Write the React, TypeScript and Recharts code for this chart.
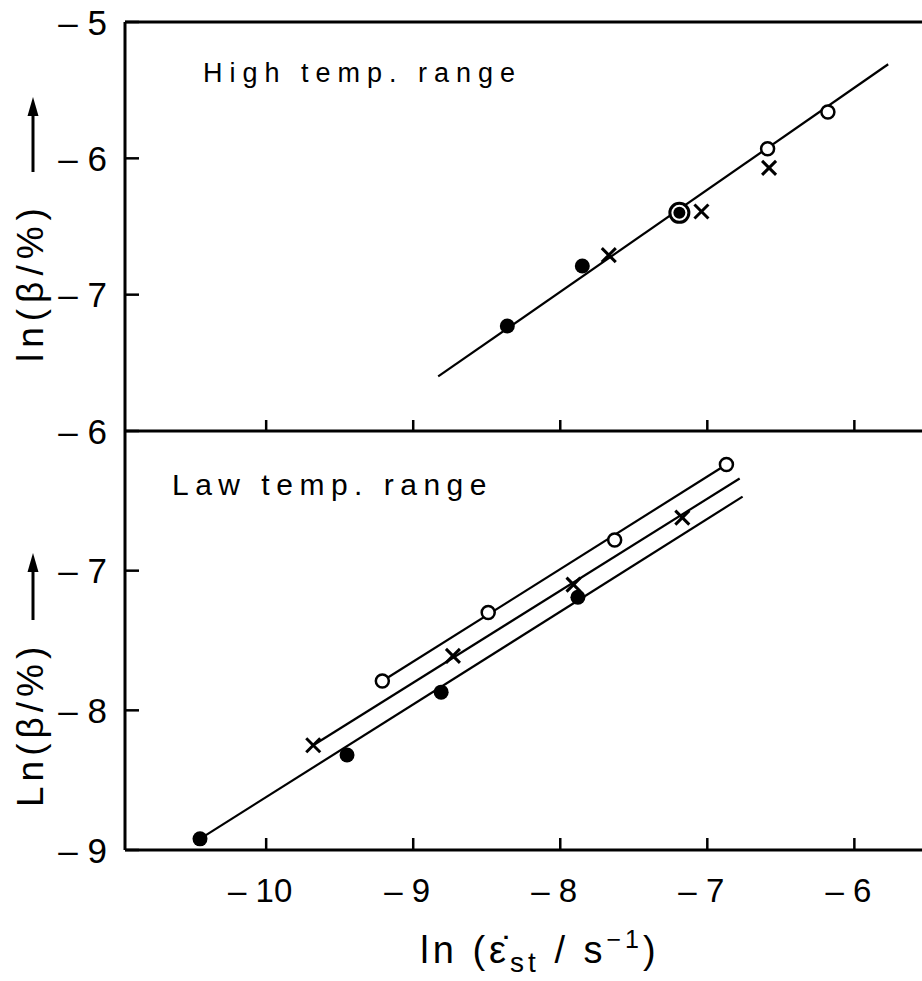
import React from "react"
import { ScatterChart, Scatter, XAxis, YAxis, ReferenceLine } from "recharts"

// x axis: ln(strain rate / s^-1), shared by both panels
const xTicks = [-10, -9, -8, -7, -6]
const highYTicks = [-5, -6, -7]
const lowYTicks = [-6, -7, -8, -9]

// high temp. range (top panel)
const highFilledX = [-8.36, -7.85]
const highFilledY = [-7.23, -6.79]
const highRingX = [-7.19]
const highRingY = [-6.4]
const highCrossX = [-7.67, -7.04, -6.58]
const highCrossY = [-6.71, -6.39, -6.07]
const highOpenX = [-6.59, -6.18]
const highOpenY = [-5.93, -5.66]
const highFitX = [-8.83, -5.77]
const highFitY = [-7.6, -5.31]

// low temp. range (bottom panel)
const lowFilledX = [-10.45, -9.45, -8.81, -7.88]
const lowFilledY = [-8.92, -8.32, -7.87, -7.19]
const lowFilledFitX = [-10.45, -6.76]
const lowFilledFitY = [-8.92, -6.47]
const lowCrossX = [-9.68, -8.73, -7.91, -7.17]
const lowCrossY = [-8.25, -7.61, -7.1, -6.62]
const lowCrossFitX = [-9.68, -6.78]
const lowCrossFitY = [-8.25, -6.34]
const lowOpenX = [-9.21, -8.49, -7.63, -6.87]
const lowOpenY = [-7.79, -7.3, -6.78, -6.24]
const lowOpenFitX = [-9.21, -6.87]
const lowOpenFitY = [-7.79, -6.24]

const zip = (xs: number[], ys: number[]) => xs.map((x, i) => ({ x, y: ys[i] }))

const FONT = '"Liberation Sans", Arial, sans-serif'
const X_DOMAIN: [number, number] = [-10.96, -5.54]
const fmt = (v: number) => `\u2013 ${Math.abs(v)}`

const NoDot = () => <g />
const Filled = ({ cx, cy }: any) => <circle cx={cx} cy={cy} r={7.5} fill="#000" />
const Open = ({ cx, cy }: any) => (
  <circle cx={cx} cy={cy} r={6.5} fill="#fff" stroke="#000" strokeWidth={2.5} />
)
const Ring = ({ cx, cy }: any) => (
  <g>
    <circle cx={cx} cy={cy} r={9.5} fill="#fff" stroke="#000" strokeWidth={3} />
    <circle cx={cx} cy={cy} r={6} fill="#000" />
  </g>
)
const Cross = ({ cx, cy }: any) => (
  <g stroke="#000" strokeWidth={3}>
    <line x1={cx - 7} y1={cy - 7} x2={cx + 7} y2={cy + 7} />
    <line x1={cx - 7} y1={cy + 7} x2={cx + 7} y2={cy - 7} />
  </g>
)

const YTick = ({ x, y, payload }: any) => (
  <g>
    <line x1={x} x2={x + 14} y1={y} y2={y} stroke="#000" strokeWidth={2.5} />
    <text x={x - 18} y={y} textAnchor="end" dominantBaseline="central" fontSize={35} fontFamily={FONT} fill="#000">
      {fmt(payload.value)}
    </text>
  </g>
)
const TopXTick = ({ x, y }: any) => <line x1={x} x2={x} y1={y} y2={y - 11} stroke="#000" strokeWidth={2.5} />
const BottomXTick = ({ x, y, payload }: any) => (
  <g>
    <line x1={x} x2={x} y1={y} y2={y - 12} stroke="#000" strokeWidth={2.5} />
    <text x={x - 6} y={y + 40} textAnchor="middle" dominantBaseline="central" fontSize={33} fontFamily={FONT} fill="#000">
      {fmt(payload.value)}
    </text>
  </g>
)

const axisLine = { stroke: "#000", strokeWidth: 3 }
const fitLine = { stroke: "#000", strokeWidth: 2.2 }

const Arrow = ({ x, y1, y2 }: { x: number; y1: number; y2: number }) => (
  <g>
    <line x1={x} x2={x} y1={y1} y2={y2 + 10} stroke="#000" strokeWidth={3} />
    <polygon points={`${x - 5.5},${y2 + 19} ${x + 5.5},${y2 + 19} ${x},${y2}`} fill="#000" />
  </g>
)

export default function App() {
  return (
    <div style={{ position: "absolute", left: 0, top: 0, width: 922, height: 981, background: "#fff", overflow: "hidden" }}>
      <div style={{ position: "absolute", left: 0, top: 0 }}>
        <ScatterChart width={922} height={440} margin={{ top: 22, right: 0, bottom: 0, left: 0 }}>
          <XAxis type="number" dataKey="x" domain={X_DOMAIN} ticks={xTicks} interval={0} height={9}
            tickSize={0} tickMargin={0} tickLine={false} axisLine={axisLine} tick={(p: any) => <TopXTick {...p} />} />
          <YAxis type="number" dataKey="y" domain={[-8, -5]} ticks={highYTicks} interval={0} width={125}
            tickSize={0} tickMargin={0} tickLine={false} axisLine={axisLine} tick={(p: any) => <YTick {...p} />} />
          <ReferenceLine y={-5} stroke="#000" strokeWidth={3} />
          <Scatter data={zip(highFitX, highFitY)} line={fitLine} shape={NoDot} isAnimationActive={false} />
          <Scatter data={zip(highFilledX, highFilledY)} shape={Filled} isAnimationActive={false} />
          <Scatter data={zip(highRingX, highRingY)} shape={Ring} isAnimationActive={false} />
          <Scatter data={zip(highCrossX, highCrossY)} shape={Cross} isAnimationActive={false} />
          <Scatter data={zip(highOpenX, highOpenY)} shape={Open} isAnimationActive={false} />
        </ScatterChart>
      </div>
      <div style={{ position: "absolute", left: 0, top: 401 }}>
        <ScatterChart width={922} height={580} margin={{ top: 30, right: 0, bottom: 0, left: 0 }}>
          <XAxis type="number" dataKey="x" domain={X_DOMAIN} ticks={xTicks} interval={0} height={131}
            tickSize={0} tickMargin={0} tickLine={false} axisLine={axisLine} tick={(p: any) => <BottomXTick {...p} />} />
          <YAxis type="number" dataKey="y" domain={[-9, -6]} ticks={lowYTicks} interval={0} width={125}
            tickSize={0} tickMargin={0} tickLine={false} axisLine={axisLine} tick={(p: any) => <YTick {...p} />} />
          <Scatter data={zip(lowOpenFitX, lowOpenFitY)} line={fitLine} shape={NoDot} isAnimationActive={false} />
          <Scatter data={zip(lowCrossFitX, lowCrossFitY)} line={fitLine} shape={NoDot} isAnimationActive={false} />
          <Scatter data={zip(lowFilledFitX, lowFilledFitY)} line={fitLine} shape={NoDot} isAnimationActive={false} />
          <Scatter data={zip(lowFilledX, lowFilledY)} shape={Filled} isAnimationActive={false} />
          <Scatter data={zip(lowCrossX, lowCrossY)} shape={Cross} isAnimationActive={false} />
          <Scatter data={zip(lowOpenX, lowOpenY)} shape={Open} isAnimationActive={false} />
        </ScatterChart>
      </div>
      <svg width={922} height={981} style={{ position: "absolute", left: 0, top: 0, pointerEvents: "none" }}>
        <g fontFamily={FONT} fill="#000">
          <text x={203} y={82} fontSize={27} letterSpacing={7}>High temp. range</text>
          <text x={172} y={495} fontSize={30} letterSpacing={6.5}>Law temp. range</text>
          <text transform="translate(43,362) rotate(-90)" fontSize={37} letterSpacing={6}>ln(β/%)</text>
          <Arrow x={33} y1={172} y2={97} />
          <text transform="translate(43,807) rotate(-90)" fontSize={37} letterSpacing={5}>Ln(β/%)</text>
          <Arrow x={33} y1={620} y2={553} />
          <text x={540} y={963} textAnchor="middle" fontSize={38} letterSpacing={4}>
            ln (ε̇<tspan dy={9} fontSize={28}>st</tspan>
            <tspan dy={-9}> / s</tspan>
            <tspan dy={-15} fontSize={25}>−1</tspan>
            <tspan dy={15}>)</tspan>
          </text>
        </g>
      </svg>
    </div>
  )
}
